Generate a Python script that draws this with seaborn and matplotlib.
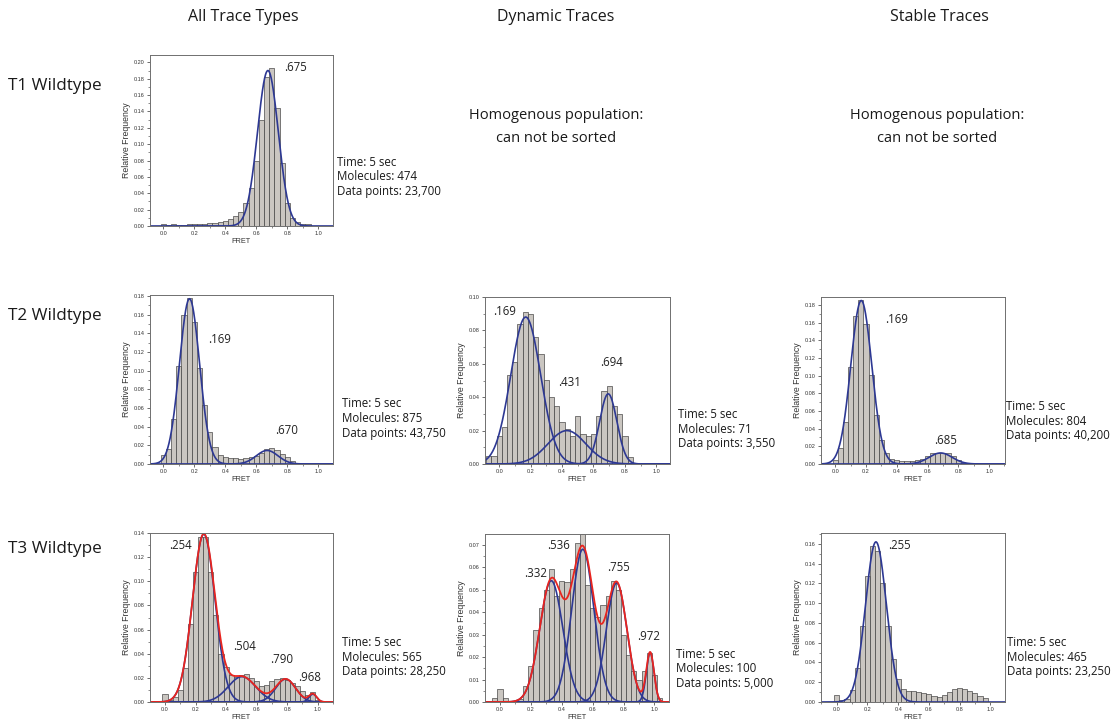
import numpy as np
import pandas as pd
import matplotlib
matplotlib.use("Agg")
import matplotlib.pyplot as plt
from matplotlib.ticker import MultipleLocator, FormatStrFormatter
import seaborn as sns

sns.set_theme(style="ticks")
plt.rcParams["font.family"] = ["Liberation Sans", "DejaVu Sans"]
TEXT_FONT = ["Open Sans", "DejaVu Sans"]

# ---------------------------------------------------------------- data
col_titles = ["All Trace Types", "Dynamic Traces", "Stable Traces"]
row_titles = ["T1 Wildtype", "T2 Wildtype", "T3 Wildtype"]
unsorted_note = "Homogenous population:\ncan not be sorted"

bin_width = 1 / 30  # FRET histogram bin; bin k is centred on k * bin_width

# relative frequency per bin, *_k0 is the index of the first bin
t1_all_k0 = 0
t1_all_freq = [0.003, 0.001, 0.002, 0.001, 0.001, 0.002, 0.002, 0.003, 0.003, 0.004,
               0.004, 0.005, 0.006, 0.008, 0.012, 0.017, 0.028, 0.047, 0.080, 0.130,
               0.182, 0.193, 0.144, 0.077, 0.028, 0.010, 0.005, 0.002, 0.002]

t2_all_k0 = 0
t2_all_freq = [0.010, 0.016, 0.048, 0.105, 0.160, 0.178, 0.152, 0.103, 0.063, 0.034,
               0.018, 0.010, 0.008, 0.006, 0.006, 0.005, 0.006, 0.007, 0.009, 0.012,
               0.016, 0.017, 0.015, 0.011, 0.007, 0.003]

t3_all_k0 = -1
t3_all_freq = [0.001, 0.007, 0.002, 0.004, 0.010, 0.028, 0.065, 0.108, 0.137, 0.137,
               0.108, 0.072, 0.040, 0.029, 0.022, 0.021, 0.022, 0.023, 0.020, 0.017,
               0.013, 0.014, 0.017, 0.019, 0.020, 0.018, 0.016, 0.013, 0.009, 0.006,
               0.008, 0.002]

t2_dyn_k0 = -2
t2_dyn_freq = [0.005, 0.005, 0.017, 0.022, 0.053, 0.061, 0.084, 0.091, 0.090, 0.076,
               0.066, 0.050, 0.040, 0.035, 0.025, 0.021, 0.017, 0.029, 0.018, 0.017,
               0.018, 0.029, 0.044, 0.047, 0.035, 0.030, 0.017, 0.004]

t3_dyn_k0 = -1
t3_dyn_freq = [0.002, 0.006, 0.002, 0.000, 0.000, 0.0015, 0.007, 0.016, 0.032, 0.042,
               0.050, 0.059, 0.047, 0.054, 0.0535, 0.059, 0.071, 0.075, 0.052, 0.042,
               0.038, 0.043, 0.047, 0.054, 0.050, 0.030, 0.021, 0.014, 0.010, 0.014,
               0.022, 0.012, 0.002]

t2_stb_k0 = 0
t2_stb_freq = [0.004, 0.018, 0.047, 0.110, 0.167, 0.186, 0.159, 0.101, 0.055, 0.027,
               0.012, 0.006, 0.004, 0.003, 0.003, 0.003, 0.004, 0.006, 0.009, 0.012,
               0.013, 0.013, 0.012, 0.009, 0.005, 0.001]

t3_stb_k0 = 0
t3_stb_freq = [0.007, 0.002, 0.003, 0.012, 0.034, 0.077, 0.127, 0.158, 0.153, 0.120,
               0.077, 0.044, 0.023, 0.013, 0.011, 0.011, 0.010, 0.009, 0.008, 0.006,
               0.005, 0.007, 0.010, 0.013, 0.014, 0.013, 0.011, 0.009, 0.006, 0.004]

# Gaussian fits: centre, height, width
t1_all_fit = dict(mu=[0.675], amp=[0.190], sd=[0.067])
t2_all_fit = dict(mu=[0.169, 0.670], amp=[0.177, 0.0145], sd=[0.065, 0.070])
t3_all_fit = dict(mu=[0.254, 0.504, 0.790, 0.968], amp=[0.139, 0.021, 0.019, 0.0065],
                  sd=[0.074, 0.090, 0.065, 0.025])
t2_dyn_fit = dict(mu=[0.169, 0.431, 0.694], amp=[0.088, 0.020, 0.042], sd=[0.095, 0.120, 0.055])
t3_dyn_fit = dict(mu=[0.332, 0.536, 0.755, 0.972], amp=[0.054, 0.068, 0.053, 0.022],
                  sd=[0.075, 0.072, 0.067, 0.025])
t2_stb_fit = dict(mu=[0.169, 0.685], amp=[0.185, 0.0125], sd=[0.068, 0.075])
t3_stb_fit = dict(mu=[0.255], amp=[0.162], sd=[0.068])

# acquisition details: time, molecules, data points
t1_all_info = ("5 sec", "474", "23,700")
t2_all_info = ("5 sec", "875", "43,750")
t3_all_info = ("5 sec", "565", "28,250")
t2_dyn_info = ("5 sec", "71", "3,550")
t3_dyn_info = ("5 sec", "100", "5,000")
t2_stb_info = ("5 sec", "804", "40,200")
t3_stb_info = ("5 sec", "465", "23,250")

# ---------------------------------------------------------------- layout
W, H = 1115, 725
fig = plt.figure(figsize=(W / 100, H / 100), dpi=100, facecolor="white")

BAR_FACE = "#cac6c1"
BAR_EDGE = "#3a3a3a"
BLUE = "#2d3893"
RED = "#e8251f"


def fx(x):
    return x / W


def fy(y):
    return 1 - y / H


panels = [
    # freq, k0, fit, info, box(px: x0, y0, x1, y1), ylim, ystep, xlim, label positions, info xy
    (t1_all_freq, t1_all_k0, t1_all_fit, t1_all_info, (150, 55, 333, 226), 0.209, 0.02,
     (-0.086, 1.095), [(0.856, 0.194)], (337, 162), False),
    (t2_all_freq, t2_all_k0, t2_all_fit, t2_all_info, (150, 295, 333, 464), 0.181, 0.02,
     (-0.086, 1.095), [(0.361, 0.133), (0.796, 0.0354)], (342, 404), False),
    (t3_all_freq, t3_all_k0, t3_all_fit, t3_all_info, (150, 533, 333, 702), 0.140, 0.02,
     (-0.098, 1.10), [(0.103, 0.130), (0.52, 0.0457), (0.764, 0.035), (0.95, 0.0205)],
     (342, 643), True),
    (t2_dyn_freq, t2_dyn_k0, t2_dyn_fit, t2_dyn_info, (485, 297, 670, 464), 0.100, 0.02,
     (-0.09, 1.087), [(0.036, 0.0915), (0.445, 0.049), (0.714, 0.061)], (678, 415), False),
    (t3_dyn_freq, t3_dyn_k0, t3_dyn_fit, t3_dyn_info, (485, 534, 669, 702), 0.0748, 0.01,
     (-0.097, 1.094), [(0.233, 0.0573), (0.377, 0.0696), (0.765, 0.060), (0.959, 0.0292)],
     (676, 654), True),
    (t2_stb_freq, t2_stb_k0, t2_stb_fit, t2_stb_info, (821, 297, 1005, 464), 0.189, 0.02,
     (-0.093, 1.104), [(0.40, 0.163), (0.719, 0.027)], (1006, 407), False),
    (t3_stb_freq, t3_stb_k0, t3_stb_fit, t3_stb_info, (821, 533, 1005, 702), 0.171, 0.02,
     (-0.103, 1.096), [(0.407, 0.158)], (1007, 643), False),
]

for freq, k0, fit, info, box, ytop, ystep, xlim, label_xy, info_xy, show_sum in panels:
    x0, y0, x1, y1 = box
    ax = fig.add_axes([fx(x0), fy(y1), (x1 - x0) / W, (y1 - y0) / H])

    k = np.arange(k0, k0 + len(freq))
    centres = k * bin_width
    edges = [float(c - bin_width / 2) for c in centres] + [float(centres[-1] + bin_width / 2)]
    df = pd.DataFrame({"fret": centres, "freq": freq})
    sns.histplot(data=df, x="fret", weights="freq", bins=edges, stat="count",
                 color=BAR_FACE, edgecolor=BAR_EDGE, linewidth=0.45, alpha=1.0, ax=ax)

    grid = np.linspace(xlim[0], xlim[1], 600)
    total = np.zeros_like(grid)
    for mu, amp, sd in zip(fit["mu"], fit["amp"], fit["sd"]):
        g = amp * np.exp(-(grid - mu) ** 2 / (2 * sd ** 2))
        total += g
        sns.lineplot(x=grid, y=g, color=BLUE, linewidth=1.2, ax=ax)
    if show_sum:
        sns.lineplot(x=grid, y=total, color=RED, linewidth=1.3, ax=ax)

    for (lx, ly), mu in zip(label_xy, fit["mu"]):
        ax.text(lx, ly, "." + f"{mu:.3f}".split(".")[1], ha="center", va="center",
                fontsize=8.3, color="#222222", family=TEXT_FONT)

    ax.set_xlim(*xlim)
    ax.set_ylim(0, ytop)
    ax.xaxis.set_major_locator(MultipleLocator(0.2))
    ax.xaxis.set_minor_locator(MultipleLocator(0.1))
    ax.yaxis.set_major_locator(MultipleLocator(ystep))
    ax.yaxis.set_minor_locator(MultipleLocator(ystep / 2))
    ax.xaxis.set_major_formatter(FormatStrFormatter("%.1f"))
    ax.yaxis.set_major_formatter(FormatStrFormatter("%.2f"))
    ax.tick_params(which="major", direction="out", length=2.2, width=0.5,
                   labelsize=4, pad=1.5, colors="#333333")
    ax.tick_params(which="minor", direction="out", length=1.3, width=0.4, colors="#333333")
    for s in ax.spines.values():
        s.set_color("#6f6f6f")
        s.set_linewidth(0.7)
    ax.set_ylabel("Relative Frequency", fontsize=6.3, labelpad=2, color="#333333")
    ax.set_xlabel("FRET", fontsize=5.3, labelpad=1.5, color="#333333")
    ax.set_facecolor("white")

    ix, iy = info_xy
    lines = [f"Time: {info[0]}", f"Molecules: {info[1]}", f"Data points: {info[2]}"]
    for i, line in enumerate(lines):
        fig.text(fx(ix), fy(iy + 14.5 * i), line, ha="left", va="center",
                 fontsize=8.3, color="#1a1a1a", family=TEXT_FONT)

# column and row headings
for title, cx in zip(col_titles, [243, 556, 939]):
    fig.text(fx(cx), fy(17), title, ha="center", va="center", fontsize=11.5,
             color="#1a1a1a", family=TEXT_FONT)
for title, cy in zip(row_titles, [86, 316, 549]):
    fig.text(fx(8), fy(cy), title, ha="left", va="center", fontsize=12.3,
             color="#1a1a1a", family=TEXT_FONT)
for cx in [556, 937]:
    fig.text(fx(cx), fy(127), unsorted_note, ha="center", va="center", fontsize=10.5,
             color="#1a1a1a", family=TEXT_FONT, linespacing=1.65)

fig.savefig("out.png", dpi=100, facecolor="white")
